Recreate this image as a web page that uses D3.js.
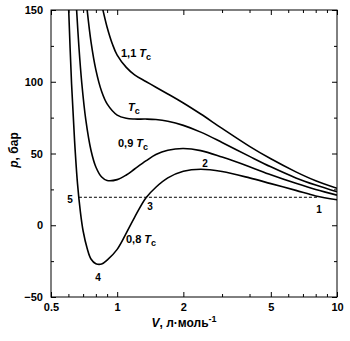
<!DOCTYPE html>
<html>
<head>
<meta charset="utf-8">
<script src="https://cdn.jsdelivr.net/npm/d3@7"></script>
<style>
  html, body { margin: 0; padding: 0; background: #fff; }
  svg { display: block; }
  text { font-family: "Liberation Sans", Arial, sans-serif; font-weight: bold; fill: #000; }
</style>
</head>
<body>
<svg id="chart" width="350" height="341"></svg>
<script>
// ---- data (V in l/mol, p in bar) ----
const isoLabels = ["1,1", "", "0,9", "0,8"];

const v11 = [0.86, 0.9, 0.95, 1.0, 1.1, 1.2, 1.35, 1.5, 1.7, 2.0, 2.4, 3.0, 4.0, 5.0, 6.5, 8.0, 10];
const p11 = [150.5, 138, 126.5, 118.5, 110, 104.8, 100.2, 96.2, 91.5, 85.2, 77.5, 67.5, 55, 46.3, 37.2, 31, 25.8];

const v10 = [0.73, 0.76, 0.80, 0.85, 0.90, 1.0, 1.1, 1.2, 1.35, 1.5, 1.7, 2.0, 2.4, 3.0, 4.0, 5.0, 6.5, 8.0, 10];
const p10 = [150.2, 128, 108.3, 93.2, 84.6, 76.8, 74.5, 74, 74, 73.7, 72.5, 69.6, 64.9, 57.7, 48, 40.7, 33, 28, 23.3];

const v09 = [0.653, 0.67, 0.69, 0.72, 0.76, 0.80, 0.85, 0.90, 1.0, 1.1, 1.2, 1.35, 1.5, 1.7, 2.0, 2.4, 3.0, 4.0, 5.0, 6.5, 8.0, 10];
const p09 = [151.4, 124, 99.3, 73.4, 52.3, 40.6, 33.6, 31.2, 31.8, 35, 39.2, 44.8, 49.3, 52.3, 53.5, 52, 47.5, 40.8, 35.2, 29.2, 24.9, 21];

const v08 = [0.60, 0.62, 0.64, 0.66, 0.68, 0.70, 0.73, 0.76, 0.80, 0.85, 0.90, 1.0, 1.1, 1.2, 1.35, 1.5, 1.7, 2.0, 2.4, 3.0, 4.0, 5.0, 6.5, 8.0, 10];
const p08 = [155.5, 99, 59, 29, 9.5, -4, -16, -23.5, -26.8, -27, -24.3, -16.8, -5.5, 5.5, 19, 26.5, 33, 37.6, 39, 37.4, 33, 29, 24.3, 20.4, 17.8];

// horizontal line through points 5 and 1
const tieV = [0.67, 8.2];
const tieP = [19.5, 19.5];

const xMajor = [0.5, 1, 2, 5, 10];
const xMinor = [0.6, 0.7, 0.8, 0.9, 3, 4, 6, 7, 8, 9];
const yMajor = [-50, 0, 50, 100, 150];
const yMinor = [-25, 25, 75, 125];

// ---- layout ----
const svg = d3.select("#chart");
const L = 51, R = 337, T = 10, B = 297;
const x = d3.scaleLog().domain([0.5, 10]).range([L, R]);
const y = d3.scaleLinear().domain([-50, 150]).range([B, T]);

svg.append("defs").append("clipPath").attr("id", "clip")
  .append("rect").attr("x", L).attr("y", T).attr("width", R - L).attr("height", B - T);

function styleAxis(g) {
  g.select(".domain").remove();
  g.selectAll("line").attr("stroke", "#000").attr("stroke-width", 1);
  g.selectAll("text").attr("font-size", 11).attr("font-family", "Liberation Sans, Arial, sans-serif").attr("font-weight", "bold");
}
const fmtX = d => String(d);
svg.append("g").attr("transform", `translate(0,${B})`)
  .call(d3.axisBottom(x).tickValues(xMajor).tickFormat(fmtX).tickSizeInner(-5).tickSizeOuter(0).tickPadding(6)).call(styleAxis);
svg.append("g").attr("transform", `translate(0,${B})`)
  .call(d3.axisBottom(x).tickValues(xMinor).tickFormat("").tickSizeInner(-3).tickSizeOuter(0)).call(styleAxis);
svg.append("g").attr("transform", `translate(0,${T})`)
  .call(d3.axisTop(x).tickValues(xMajor).tickFormat("").tickSizeInner(-5).tickSizeOuter(0)).call(styleAxis);
svg.append("g").attr("transform", `translate(0,${T})`)
  .call(d3.axisTop(x).tickValues(xMinor).tickFormat("").tickSizeInner(-3).tickSizeOuter(0)).call(styleAxis);

svg.append("g").attr("transform", `translate(${L},0)`)
  .call(d3.axisLeft(y).tickValues(yMajor).tickFormat(d3.format("d")).tickSizeInner(-5).tickSizeOuter(0).tickPadding(8)).call(styleAxis);
svg.append("g").attr("transform", `translate(${L},0)`)
  .call(d3.axisLeft(y).tickValues(yMinor).tickFormat("").tickSizeInner(-3).tickSizeOuter(0)).call(styleAxis);
svg.append("g").attr("transform", `translate(${R},0)`)
  .call(d3.axisRight(y).tickValues(yMajor).tickFormat("").tickSizeInner(-5).tickSizeOuter(0)).call(styleAxis);
svg.append("g").attr("transform", `translate(${R},0)`)
  .call(d3.axisRight(y).tickValues(yMinor).tickFormat("").tickSizeInner(-3).tickSizeOuter(0)).call(styleAxis);

svg.append("rect").attr("x", L).attr("y", T).attr("width", R - L).attr("height", B - T)
  .attr("fill", "none").attr("stroke", "#000").attr("stroke-width", 1);

// curves
const line = d3.line().x(d => x(d[0])).y(d => y(d[1])).curve(d3.curveCatmullRom.alpha(0.5));
const curves = [[v11, p11], [v10, p10], [v09, p09], [v08, p08]];
const plot = svg.append("g").attr("clip-path", "url(#clip)");
curves.forEach(([vs, ps]) => {
  plot.append("path").datum(vs.map((v, i) => [v, ps[i]]))
    .attr("d", line).attr("fill", "none").attr("stroke", "#000").attr("stroke-width", 1.6);
});
plot.append("path").datum(tieV.map((v, i) => [v, tieP[i]]))
  .attr("d", d3.line().x(d => x(d[0])).y(d => y(d[1])))
  .attr("fill", "none").attr("stroke", "#000").attr("stroke-width", 1).attr("stroke-dasharray", "3,2");

// isotherm labels
function tcLabel(px, py, prefix) {
  const t = svg.append("text").attr("x", px).attr("y", py).attr("font-size", 11);
  if (prefix) t.append("tspan").text(prefix + " ");
  t.append("tspan").attr("font-style", "italic").text("T");
  t.append("tspan").attr("font-size", 9).attr("dy", 3).text("c");
}
tcLabel(121, 57, isoLabels[0]);
tcLabel(128, 111, isoLabels[1]);
tcLabel(118, 147, isoLabels[2]);
tcLabel(126, 243, isoLabels[3]);

// point numbers
const pts = [["1", 319, 213], ["2", 205, 167], ["3", 150, 210], ["4", 98, 281], ["5", 70, 203]];
pts.forEach(([s, px, py]) => svg.append("text").attr("x", px).attr("y", py)
  .attr("text-anchor", "middle").attr("font-size", 10).text(s));

// axis titles
const xt = svg.append("text").attr("x", 184).attr("y", 327).attr("text-anchor", "middle").attr("font-size", 12);
xt.append("tspan").attr("font-style", "italic").text("V");
xt.append("tspan").text(", л·моль");
xt.append("tspan").attr("font-size", 9).attr("dy", -5).text("-1");

const yt = svg.append("text").attr("transform", "translate(18,150) rotate(-90)").attr("text-anchor", "middle").attr("font-size", 12);
yt.append("tspan").attr("font-style", "italic").text("p");
yt.append("tspan").text(", бар");
</script>
</body>
</html>
